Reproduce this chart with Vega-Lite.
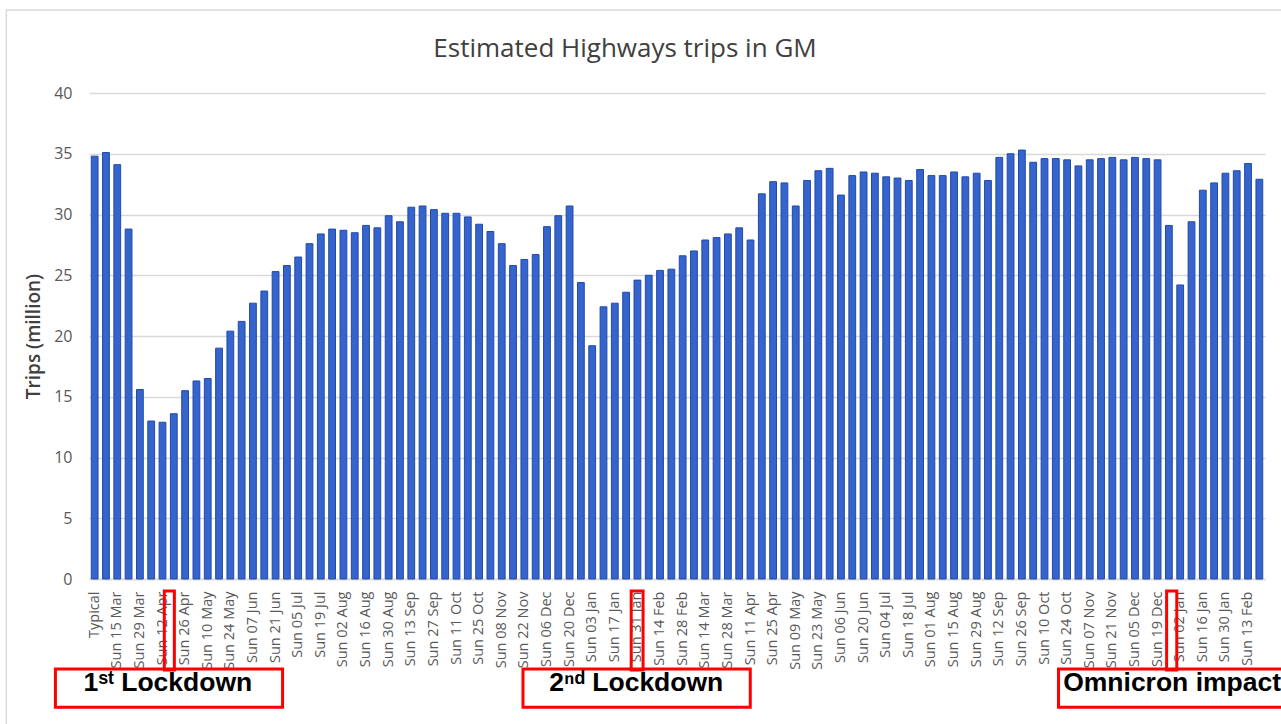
{
  "$schema": "https://vega.github.io/schema/vega-lite/v6.json",
  "width": 1176,
  "height": 486,
  "autosize": {"type": "none"},
  "padding": {"left": 89, "top": 93, "right": 16, "bottom": 145},
  "background": "white",
  "config": {"view": {"stroke": null}},
  "title": {
    "text": "Estimated Highways trips in GM",
    "font": "Open Sans",
    "fontSize": 26,
    "fontWeight": "normal",
    "color": "#404040",
    "anchor": "middle",
    "dx": -52,
    "offset": -53
  },
  "resolve": {"scale": {"x": "independent"}, "axis": {"x": "independent"}},
  "layer": [
    {
      "data": {"values": [
        {"d": "Typical", "v": 34.8},
        {"d": "Sun 08 Mar", "v": 35.1},
        {"d": "Sun 15 Mar", "v": 34.1},
        {"d": "Sun 22 Mar", "v": 28.8},
        {"d": "Sun 29 Mar", "v": 15.6},
        {"d": "Sun 05 Apr", "v": 13.0},
        {"d": "Sun 12 Apr", "v": 12.9},
        {"d": "Sun 19 Apr", "v": 13.6},
        {"d": "Sun 26 Apr", "v": 15.5},
        {"d": "Sun 03 May", "v": 16.3},
        {"d": "Sun 10 May", "v": 16.5},
        {"d": "Sun 17 May", "v": 19.0},
        {"d": "Sun 24 May", "v": 20.4},
        {"d": "Sun 31 May", "v": 21.2},
        {"d": "Sun 07 Jun", "v": 22.7},
        {"d": "Sun 14 Jun", "v": 23.7},
        {"d": "Sun 21 Jun", "v": 25.3},
        {"d": "Sun 28 Jun", "v": 25.8},
        {"d": "Sun 05 Jul", "v": 26.5},
        {"d": "Sun 12 Jul", "v": 27.6},
        {"d": "Sun 19 Jul", "v": 28.4},
        {"d": "Sun 26 Jul", "v": 28.8},
        {"d": "Sun 02 Aug", "v": 28.7},
        {"d": "Sun 09 Aug", "v": 28.5},
        {"d": "Sun 16 Aug", "v": 29.1},
        {"d": "Sun 23 Aug", "v": 28.9},
        {"d": "Sun 30 Aug", "v": 29.9},
        {"d": "Sun 06 Sep", "v": 29.4},
        {"d": "Sun 13 Sep", "v": 30.6},
        {"d": "Sun 20 Sep", "v": 30.7},
        {"d": "Sun 27 Sep", "v": 30.4},
        {"d": "Sun 04 Oct", "v": 30.1},
        {"d": "Sun 11 Oct", "v": 30.1},
        {"d": "Sun 18 Oct", "v": 29.8},
        {"d": "Sun 25 Oct", "v": 29.2},
        {"d": "Sun 01 Nov", "v": 28.6},
        {"d": "Sun 08 Nov", "v": 27.6},
        {"d": "Sun 15 Nov", "v": 25.8},
        {"d": "Sun 22 Nov", "v": 26.3},
        {"d": "Sun 29 Nov", "v": 26.7},
        {"d": "Sun 06 Dec", "v": 29.0},
        {"d": "Sun 13 Dec", "v": 29.9},
        {"d": "Sun 20 Dec", "v": 30.7},
        {"d": "Sun 27 Dec", "v": 24.4},
        {"d": "Sun 03 Jan", "v": 19.2},
        {"d": "Sun 10 Jan", "v": 22.4},
        {"d": "Sun 17 Jan", "v": 22.7},
        {"d": "Sun 24 Jan", "v": 23.6},
        {"d": "Sun 31 Jan", "v": 24.6},
        {"d": "Sun 07 Feb", "v": 25.0},
        {"d": "Sun 14 Feb", "v": 25.4},
        {"d": "Sun 21 Feb", "v": 25.5},
        {"d": "Sun 28 Feb", "v": 26.6},
        {"d": "Sun 07 Mar", "v": 27.0},
        {"d": "Sun 14 Mar", "v": 27.9},
        {"d": "Sun 21 Mar", "v": 28.1},
        {"d": "Sun 28 Mar", "v": 28.4},
        {"d": "Sun 04 Apr", "v": 28.9},
        {"d": "Sun 11 Apr", "v": 27.9},
        {"d": "Sun 18 Apr", "v": 31.7},
        {"d": "Sun 25 Apr", "v": 32.7},
        {"d": "Sun 02 May", "v": 32.6},
        {"d": "Sun 09 May", "v": 30.7},
        {"d": "Sun 16 May", "v": 32.8},
        {"d": "Sun 23 May", "v": 33.6},
        {"d": "Sun 30 May", "v": 33.8},
        {"d": "Sun 06 Jun", "v": 31.6},
        {"d": "Sun 13 Jun", "v": 33.2},
        {"d": "Sun 20 Jun", "v": 33.5},
        {"d": "Sun 27 Jun", "v": 33.4},
        {"d": "Sun 04 Jul", "v": 33.1},
        {"d": "Sun 11 Jul", "v": 33.0},
        {"d": "Sun 18 Jul", "v": 32.8},
        {"d": "Sun 25 Jul", "v": 33.7},
        {"d": "Sun 01 Aug", "v": 33.2},
        {"d": "Sun 08 Aug", "v": 33.2},
        {"d": "Sun 15 Aug", "v": 33.5},
        {"d": "Sun 22 Aug", "v": 33.1},
        {"d": "Sun 29 Aug", "v": 33.4},
        {"d": "Sun 05 Sep", "v": 32.8},
        {"d": "Sun 12 Sep", "v": 34.7},
        {"d": "Sun 19 Sep", "v": 35.0},
        {"d": "Sun 26 Sep", "v": 35.3},
        {"d": "Sun 03 Oct", "v": 34.3},
        {"d": "Sun 10 Oct", "v": 34.6},
        {"d": "Sun 17 Oct", "v": 34.6},
        {"d": "Sun 24 Oct", "v": 34.5},
        {"d": "Sun 31 Oct", "v": 34.0},
        {"d": "Sun 07 Nov", "v": 34.5},
        {"d": "Sun 14 Nov", "v": 34.6},
        {"d": "Sun 21 Nov", "v": 34.7},
        {"d": "Sun 28 Nov", "v": 34.5},
        {"d": "Sun 05 Dec", "v": 34.7},
        {"d": "Sun 12 Dec", "v": 34.6},
        {"d": "Sun 19 Dec", "v": 34.5},
        {"d": "Sun 26 Dec", "v": 29.1},
        {"d": "Sun 02 Jan", "v": 24.2},
        {"d": "Sun 09 Jan", "v": 29.4},
        {"d": "Sun 16 Jan", "v": 32.0},
        {"d": "Sun 23 Jan", "v": 32.6},
        {"d": "Sun 30 Jan", "v": 33.4},
        {"d": "Sun 06 Feb", "v": 33.6},
        {"d": "Sun 13 Feb", "v": 34.2},
        {"d": "Sun 20 Feb", "v": 32.9}
      ]},
      "mark": {"type": "bar", "color": "#3464cc", "stroke": "#2249a8", "strokeWidth": 1},
      "encoding": {
        "x": {
          "field": "d", "type": "nominal", "sort": null,
          "scale": {"paddingInner": 0.4, "paddingOuter": 0.2},
          "axis": {
            "title": null,
            "labelAngle": -90,
            "labelFont": "Open Sans",
            "labelFontSize": 14.5,
            "labelColor": "#595959",
            "labelPadding": 12,
            "ticks": false,
            "domainColor": "#d9d9d9",
            "domainWidth": 1.5,
            "labelOverlap": false,
            "values": ["Typical", "Sun 15 Mar", "Sun 29 Mar", "Sun 12 Apr", "Sun 26 Apr", "Sun 10 May", "Sun 24 May", "Sun 07 Jun", "Sun 21 Jun", "Sun 05 Jul", "Sun 19 Jul", "Sun 02 Aug", "Sun 16 Aug", "Sun 30 Aug", "Sun 13 Sep", "Sun 27 Sep", "Sun 11 Oct", "Sun 25 Oct", "Sun 08 Nov", "Sun 22 Nov", "Sun 06 Dec", "Sun 20 Dec", "Sun 03 Jan", "Sun 17 Jan", "Sun 31 Jan", "Sun 14 Feb", "Sun 28 Feb", "Sun 14 Mar", "Sun 28 Mar", "Sun 11 Apr", "Sun 25 Apr", "Sun 09 May", "Sun 23 May", "Sun 06 Jun", "Sun 20 Jun", "Sun 04 Jul", "Sun 18 Jul", "Sun 01 Aug", "Sun 15 Aug", "Sun 29 Aug", "Sun 12 Sep", "Sun 26 Sep", "Sun 10 Oct", "Sun 24 Oct", "Sun 07 Nov", "Sun 21 Nov", "Sun 05 Dec", "Sun 19 Dec", "Sun 02 Jan", "Sun 16 Jan", "Sun 30 Jan", "Sun 13 Feb"]
          }
        },
        "y": {
          "field": "v", "type": "quantitative",
          "scale": {"domain": [0, 40], "nice": false},
          "axis": {
            "title": "Trips (million)",
            "titleFont": "Open Sans",
            "titleFontSize": 19,
            "titleFontWeight": 600,
            "titleColor": "#404040",
            "titlePadding": 10,
            "values": [0, 5, 10, 15, 20, 25, 30, 35, 40],
            "labelFont": "Open Sans",
            "labelFontSize": 16,
            "labelColor": "#595959",
            "labelPadding": 17,
            "ticks": false,
            "domain": false,
            "gridColor": "#d9d9d9",
            "gridWidth": 1.5
          }
        }
      }
    },
    {
      "layer": [
        {
          "data": {"values": [{"x": -7.81, "x2": 130, "y": 46.83, "y2": -30}]},
          "mark": {"type": "rect", "fill": null, "stroke": "#d9d9d9", "strokeWidth": 1.5, "clip": false},
          "encoding": {
            "x": {"field": "x", "type": "quantitative", "scale": {"domain": [-0.5, 103.5], "nice": false, "zero": false}, "axis": null},
            "x2": {"field": "x2"},
            "y": {"field": "y", "type": "quantitative"},
            "y2": {"field": "y2"}
          }
        },
        {
          "data": {"values": [
            {"x": 6.16, "x2": 7.05, "y": -0.99, "y2": -7.49},
            {"x": 47.45, "x2": 48.5, "y": -0.99, "y2": -7.49},
            {"x": 94.8, "x2": 95.7, "y": -0.99, "y2": -7.49},
            {"x": -3.47, "x2": 16.62, "y": -7.41, "y2": -10.56},
            {"x": 37.88, "x2": 57.98, "y": -7.41, "y2": -10.56},
            {"x": 85.24, "x2": 115, "y": -7.41, "y2": -10.56}
          ]},
          "mark": {"type": "rect", "fill": null, "stroke": "#ff0000", "strokeWidth": 3, "clip": false},
          "encoding": {
            "x": {"field": "x", "type": "quantitative", "scale": {"domain": [-0.5, 103.5], "nice": false, "zero": false}, "axis": null},
            "x2": {"field": "x2"},
            "y": {"field": "y", "type": "quantitative"},
            "y2": {"field": "y2"}
          }
        },
        {
          "data": {"values": [
            {"x": 6.47, "y": -8.6, "t": "1ˢᵗ Lockdown"},
            {"x": 47.9, "y": -8.6, "t": "2ⁿᵈ Lockdown"}
          ]},
          "mark": {"type": "text", "font": "Liberation Sans", "fontSize": 26.5, "fontWeight": "bold", "color": "#000000", "align": "center", "baseline": "middle", "clip": false},
          "encoding": {
            "x": {"field": "x", "type": "quantitative", "scale": {"domain": [-0.5, 103.5], "nice": false, "zero": false}, "axis": null},
            "y": {"field": "y", "type": "quantitative"},
            "text": {"field": "t"}
          }
        },
        {
          "data": {"values": [
            {"x": 85.65, "y": -8.6, "t": "Omnicron impact"}
          ]},
          "mark": {"type": "text", "font": "Liberation Sans", "fontSize": 26.5, "fontWeight": "bold", "color": "#000000", "align": "left", "baseline": "middle", "clip": false},
          "encoding": {
            "x": {"field": "x", "type": "quantitative", "scale": {"domain": [-0.5, 103.5], "nice": false, "zero": false}, "axis": null},
            "y": {"field": "y", "type": "quantitative"},
            "text": {"field": "t"}
          }
        }
      ]
    }
  ]
}
